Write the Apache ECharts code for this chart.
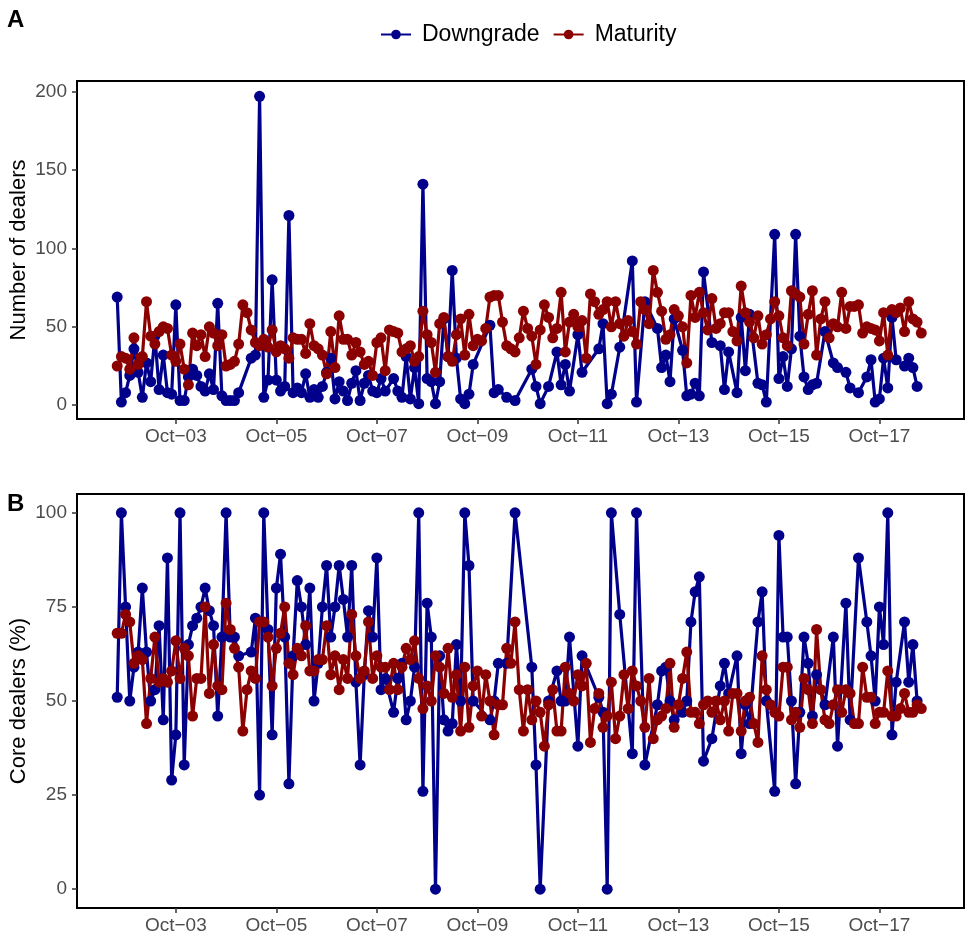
<!DOCTYPE html>
<html>
<head>
<meta charset="utf-8">
<script src="https://cdn.jsdelivr.net/npm/echarts@6/dist/echarts.min.js"></script>
<style>
  html, body { margin: 0; padding: 0; background: #ffffff; }
  #chart { width: 970px; height: 941px; }
</style>
</head>
<body>
<div id="chart"></div>
<script>
// Monthly observations starting August 2002 (one value per month).
const firstMonth = '2002-08';

// Dates that carry an x-axis label.
const tickMonths = ['2003-10', '2005-10', '2007-10', '2009-10', '2011-10', '2013-10', '2015-10', '2017-10'];
const countTicks = [0, 50, 100, 150, 200];
const shareTicks = [0, 25, 50, 75, 100];

// Panel A: number of dealers (null = no event that month)
const downgradeCount = [
  69, 2, 8, 19, 36, 21, 5, 27, 15, 44,
  10, 32, 8, 7, 64, 3, 3, 18, 23, 19,
  12, 9, 20, 10, 65, 6, 3, 3, 3, 8,
  null, null, 30, 32, 197, 5, 16, 80, 16, 9,
  12, 121, 8, 11, 8, 20, 5, 10, 5, 12,
  21, 30, 4, 15, 9, 3, 14, 22, 3, 14,
  19, 9, 8, 17, 9, null, 17, 9, 5, 31,
  4, 24, 1, 141, 17, 15, 1, 15, 55, 31,
  86, 30, 4, 1, 7, 26, null, null, null, 51,
  8, 10, null, 5, null, 3, null, null, null, 23,
  12, 1, null, 12, null, 34, 13, 26, 9, null,
  45, 21, null, null, null, 36, 52, 1, 7, null,
  37, null, null, 92, 2, null, 66, null, null, 49,
  24, 32, 15, 55, null, 35, 6, 7, 14, 6,
  85, null, 40, null, 38, 10, 34, null, 8, 56,
  22, 58, null, 14, 13, 2, null, 109, 17, 31,
  12, 36, 109, 44, 18, 10, 13, 14, null, 47,
  null, 27, 24, null, 21, 11, null, 8, null, 18,
  29, 2, 4, 30, 11, 56, 29, null, 25, 30,
  24, 12, null
];
const maturityCount = [
  25, 31, 30, 23, 43, 26, 31, 66, 44, 39,
  47, 50, 49, 32, 28, 39, 23, 13, 46, 38,
  45, 31, 50, 46, 38, 45, 25, 26, 28, 39,
  64, 59, 48, 40, 38, 42, 37, 48, 34, 38,
  36, 30, 43, 42, 42, 33, 52, 38, 36, 32,
  20, 47, 24, 57, 42, 42, 32, 40, 34, 26,
  28, 19, 40, 43, 22, 48, 47, 46, 34, 36,
  38, 28, 31, 60, 45, 40, 21, 52, 56, 31,
  28, 45, 55, 32, 58, 38, 42, 41, 49, 69,
  70, 70, 53, 38, 36, 34, 43, 60, 49, 44,
  26, 48, 64, 56, 43, 49, 72, 34, 53, 58,
  50, 54, 30, 71, 66, 58, 61, 66, 50, 66,
  52, 44, 54, 47, 39, 66, 61, 52, 86, 72,
  60, 42, 45, 61, 57, 50, 27, 70, 56, 72,
  59, 48, 68, 49, 52, 59, 59, 47, 41, 76,
  59, 53, 43, 57, 39, 45, 55, 66, 57, 43,
  38, 73, 71, 69, 39, 58, 73, 32, 55, 66,
  43, 52, 50, 72, 49, 63, 63, 64, 46, 50,
  49, 48, 41, 59, 32, 61, 59, 62, 47, 66,
  55, 53, 46
];

// Panel B: share of core dealers (%)
const downgradeCore = [
  51, 100, 75, 50, 59, 63, 80, 63, 50, 53,
  70, 45, 88, 29, 41, 100, 33, 65, 70, 72,
  75, 80, 74, 70, 46, 67, 100, 67, 67, 62,
  null, null, 63, 72, 25, 100, 69, 41, 80, 89,
  67, 28, 62, 82, 75, 65, 80, 50, 60, 75,
  86, 67, 75, 86, 77, 67, 86, 55, 33, 57,
  74, 67, 88, 53, 56, null, 47, 56, 60, 45,
  50, 59, 100, 26, 76, 67, 0, 62, 45, 42,
  44, 65, 50, 100, 86, 50, null, null, null, 45,
  50, 60, null, 60, null, 100, null, null, null, 59,
  33, 0, null, 50, null, 58, 50, 50, 67, null,
  38, 62, null, null, null, 51, 47, 0, 100, null,
  73, null, null, 36, 100, null, 33, null, null, 49,
  58, 59, 50, 45, null, 47, 50, 71, 79, 83,
  34, null, 40, null, 54, 60, 52, null, 62, 36,
  49, 44, null, 71, 79, 50, null, 26, 94, 67,
  67, 50, 28, 47, 67, 60, 46, 57, null, 49,
  null, 67, 38, null, 76, 45, null, 88, null, 71,
  62, 50, 75, 65, 100, 41, 55, null, 71, 55,
  65, 50, null
];
const maturityCore = [
  68, 68, 73, 71, 60, 62, 61, 44, 56, 67,
  55, 56, 55, 58, 66, 56, 64, 62, 46, 56,
  56, 75, 52, 65, 54, 53, 76, 69, 64, 59,
  42, 53, 58, 56, 71, 71, 67, 54, 64, 68,
  75, 60, 57, 64, 62, 70, 58, 58, 61, 61,
  70, 57, 62, 53, 61, 56, 73, 62, 56, 58,
  71, 56, 62, 59, 59, 53, 60, 53, 59, 64,
  61, 66, 56, 48, 54, 50, 62, 59, 52, 64,
  51, 57, 42, 59, 43, 54, 58, 46, 57, 50,
  41, 49, 49, 64, 60, 71, 53, 42, 53, 45,
  50, 47, 38, 49, 53, 42, 42, 59, 52, 50,
  57, 54, 60, 39, 48, 52, 43, 46, 55, 40,
  46, 57, 48, 58, 54, 50, 43, 56, 40, 45,
  46, 48, 60, 43, 49, 56, 63, 47, 47, 44,
  49, 50, 47, 50, 45, 50, 42, 52, 52, 42,
  50, 51, 44, 39, 62, 53, 49, 47, 46, 59,
  59, 45, 47, 43, 56, 53, 44, 69, 53, 45,
  44, 49, 53, 47, 53, 52, 44, 44, 59, 51,
  51, 44, 47, 47, 58, 46, 46, 48, 52, 47,
  47, 49, 48
];

const MONTHS = ['Jan', 'Feb', 'Mar', 'Apr', 'May', 'Jun', 'Jul', 'Aug', 'Sep', 'Oct', 'Nov', 'Dec'];
const FONT = '"Liberation Sans", Arial, Helvetica, sans-serif';
const NAVY = '#00008B';
const DARKRED = '#8B0000';
const LINE_W = 3.2;
const DOT = 11;

// x positions are months counted from October 2001
function monthIndex(ym) {
  const [y, m] = ym.split('-').map(Number);
  return (y - 2001) * 12 + (m - 10);
}
function monthLabel(idx) {
  const k = Math.round(idx) + 9;
  const year = 2001 + Math.floor(k / 12);
  return MONTHS[k % 12] + '\u2212' + String(year % 100).padStart(2, '0');
}
const start = monthIndex(firstMonth);
function pairs(values) {
  const out = [];
  values.forEach((v, i) => { if (v !== null) out.push([start + i, v]); });
  return out;
}
const tickIdx = tickMonths.map(monthIndex);

function xAxisFor(gridIndex) {
  return {
    type: 'value', gridIndex: gridIndex, position: 'bottom',
    min: 0.4, max: 212.2,
    axisLine: { show: false, onZero: false },
    splitLine: { show: false },
    axisTick: { show: true, inside: false, customValues: tickIdx, length: 5, lineStyle: { color: '#333333', width: 1.5 } },
    axisLabel: { show: true, customValues: tickIdx, formatter: monthLabel, color: '#4D4D4D', fontSize: 19, fontFamily: FONT, margin: 8 }
  };
}
function yAxisFor(gridIndex, name, min, max, ticks) {
  return {
    type: 'value', gridIndex: gridIndex, position: 'left', min: min, max: max,
    name: name, nameLocation: 'middle', nameGap: 47, nameMoveOverlap: false,
    nameTextStyle: { color: '#000000', fontSize: 22, fontFamily: FONT },
    axisLine: { show: false, onZero: false },
    splitLine: { show: false },
    axisTick: { show: true, inside: false, customValues: ticks, length: 5, lineStyle: { color: '#333333', width: 1.5 } },
    axisLabel: { show: true, customValues: ticks, color: '#4D4D4D', fontSize: 19, fontFamily: FONT, margin: 10 }
  };
}
// Connecting lines sit underneath every point, so lines and points are separate layers.
function lineLayer(name, color, values, axisIndex) {
  return {
    name: name, type: 'line', z: 2,
    xAxisIndex: axisIndex, yAxisIndex: axisIndex,
    data: pairs(values),
    symbol: 'circle', symbolSize: DOT, showSymbol: false,
    lineStyle: { color: color, width: LINE_W },
    itemStyle: { color: color },
    emphasis: { disabled: true },
    animation: false
  };
}
function pointLayer(name, color, values, axisIndex) {
  return {
    name: name, type: 'scatter', z: 3,
    xAxisIndex: axisIndex, yAxisIndex: axisIndex,
    data: pairs(values),
    symbol: 'circle', symbolSize: DOT,
    itemStyle: { color: color, opacity: 1 },
    emphasis: { disabled: true },
    animation: false
  };
}

const chart = echarts.init(document.getElementById('chart'), null, { renderer: 'canvas' });
chart.setOption({
  backgroundColor: '#ffffff',
  animation: false,
  title: [
    { text: 'A', left: 2, top: 3, textStyle: { fontSize: 24, fontWeight: 'bold', color: '#000', fontFamily: FONT } },
    { text: 'B', left: 2, top: 487, textStyle: { fontSize: 24, fontWeight: 'bold', color: '#000', fontFamily: FONT } }
  ],
  legend: {
    data: ['Downgrade', 'Maturity'],
    left: 375, top: 18,
    itemWidth: 30, itemHeight: 12, itemGap: 13,
    textStyle: { fontSize: 23, color: '#000000', fontFamily: FONT, padding: [0, 0, 0, 6] }
  },
  grid: [
    { left: 77, top: 81, width: 887, height: 338, outerBoundsMode: 'none', containLabel: false,
      show: true, borderColor: '#000000', borderWidth: 2, backgroundColor: 'transparent' },
    { left: 77, top: 494, width: 887, height: 414, outerBoundsMode: 'none', containLabel: false,
      show: true, borderColor: '#000000', borderWidth: 2, backgroundColor: 'transparent' }
  ],
  xAxis: [xAxisFor(0), xAxisFor(1)],
  yAxis: [
    yAxisFor(0, 'Number of dealers', -8.8, 206.8, countTicks),
    yAxisFor(1, 'Core dealers (%)', -5, 105, shareTicks)
  ],
  series: [
    lineLayer('Downgrade', NAVY, downgradeCount, 0),
    lineLayer('Maturity', DARKRED, maturityCount, 0),
    pointLayer('Downgrade', NAVY, downgradeCount, 0),
    pointLayer('Maturity', DARKRED, maturityCount, 0),
    lineLayer('Downgrade', NAVY, downgradeCore, 1),
    lineLayer('Maturity', DARKRED, maturityCore, 1),
    pointLayer('Downgrade', NAVY, downgradeCore, 1),
    pointLayer('Maturity', DARKRED, maturityCore, 1)
  ]
});
</script>
</body>
</html>
